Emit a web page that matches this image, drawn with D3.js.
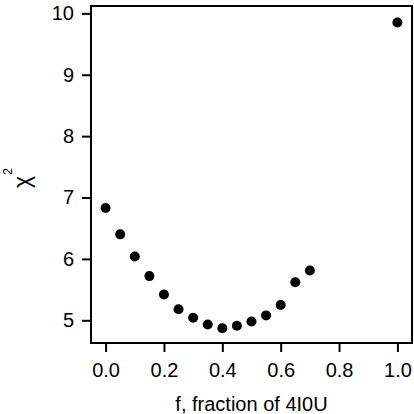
<!DOCTYPE html>
<html>
<head>
<meta charset="utf-8">
<script src="https://cdn.jsdelivr.net/npm/d3@7"></script>
<style>
  html, body { margin: 0; padding: 0; background: #fff; }
  svg { display: block; font-family: "Liberation Sans", Arial, sans-serif; }
</style>
</head>
<body>
<svg id="chart" width="414" height="414"></svg>
<script>
// Chi-squared of the fit versus the fraction of 4I0U in the mixture
const fractions = [0.00, 0.05, 0.10, 0.15, 0.20, 0.25, 0.30, 0.35, 0.40, 0.45, 0.50, 0.55, 0.60, 0.65, 0.70, 1.00];
const chiSquared = [6.83, 6.40, 6.04, 5.72, 5.42, 5.18, 5.04, 4.93, 4.87, 4.91, 4.98, 5.08, 5.25, 5.62, 5.81, 9.85];
const xTicks = [0.0, 0.2, 0.4, 0.6, 0.8, 1.0];
const yTicks = [5, 6, 7, 8, 9, 10];

const svg = d3.select("#chart");
const plot = { left: 91, right: 412, top: 6, bottom: 343 };

const x = d3.scaleLinear().domain([-0.05, 1.05]).range([plot.left, plot.right]);
const y = d3.scaleLinear().domain([4.63, 10.12]).range([plot.bottom, plot.top]);

// Frame around the plotting area
svg.append("rect")
  .attr("x", plot.left).attr("y", plot.top)
  .attr("width", plot.right - plot.left).attr("height", plot.bottom - plot.top)
  .attr("fill", "none").attr("stroke", "#000").attr("stroke-width", 2);

const xAxis = svg.append("g")
  .attr("transform", `translate(0,${plot.bottom})`)
  .call(d3.axisBottom(x).tickValues(xTicks).tickFormat(d3.format(".1f"))
    .tickSize(9).tickSizeOuter(0).tickPadding(11));

const yAxis = svg.append("g")
  .attr("transform", `translate(${plot.left},0)`)
  .call(d3.axisLeft(y).tickValues(yTicks).tickFormat(d3.format("d"))
    .tickSize(9).tickSizeOuter(0).tickPadding(8));

[xAxis, yAxis].forEach(g => {
  g.select(".domain").remove();
  g.selectAll(".tick line").attr("stroke", "#000").attr("stroke-width", 2);
  g.selectAll(".tick text").attr("fill", "#000").attr("font-size", 20)
    .attr("font-family", "Liberation Sans, Arial, sans-serif");
});

// Data points
svg.append("g").selectAll("circle")
  .data(fractions.map((f, i) => [f, chiSquared[i]]))
  .join("circle")
  .attr("cx", d => x(d[0]))
  .attr("cy", d => y(d[1]))
  .attr("r", 5)
  .attr("fill", "#000");

// Axis titles
svg.append("text")
  .attr("x", (plot.left + plot.right) / 2)
  .attr("y", 411)
  .attr("text-anchor", "middle")
  .attr("font-size", 20)
  .attr("fill", "#000")
  .text("f, fraction of 4I0U");

const yTitle = svg.append("text")
  .attr("transform", "translate(30,178) rotate(-90)")
  .attr("text-anchor", "middle")
  .attr("font-size", 23)
  .attr("fill", "#000");
yTitle.append("tspan").text("χ");
yTitle.append("tspan").attr("font-size", 12).attr("dy", -18).attr("dx", 1).text("2");
</script>
</body>
</html>
